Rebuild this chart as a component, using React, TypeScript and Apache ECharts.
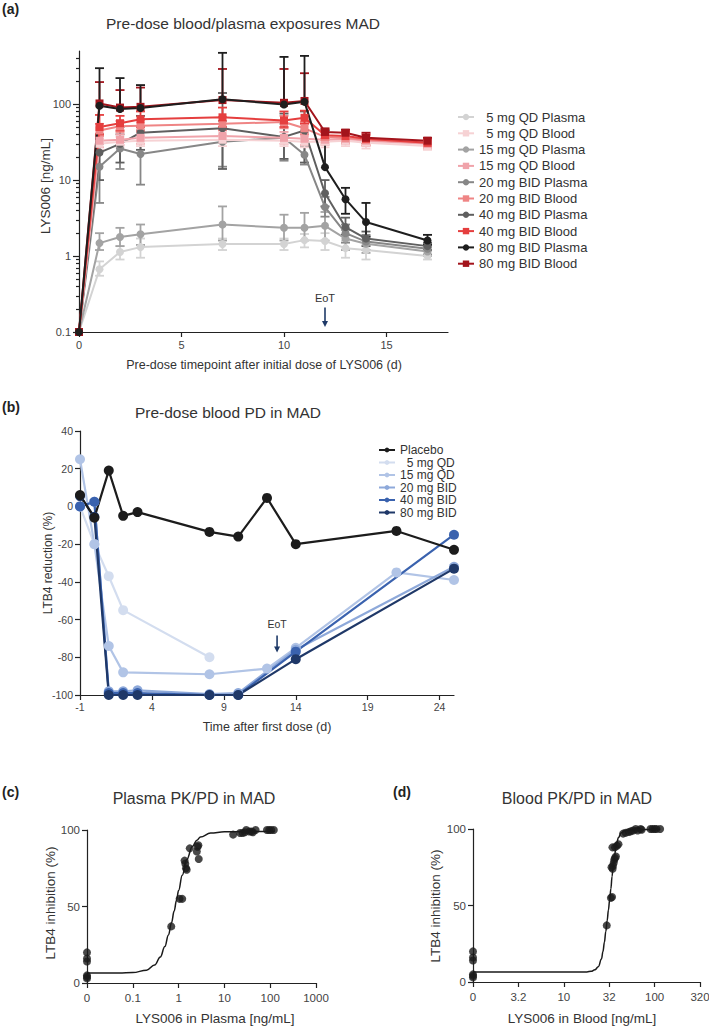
import React, { useEffect, useRef } from 'react';
import * as echarts from 'echarts';

const FONT = '"Liberation Sans", Arial, Helvetica, sans-serif';
const TXT = '#333333';
const AX = '#222222';
const N = null;

// ---------------- Panel (a): pre-dose exposures ----------------
const DAYS_A = [0, 1, 2, 3, 7, 10, 11, 12, 13, 14, 17];
const X_TICKS_A = [0, 5, 10, 15];
const Y_TICKS_A = [0.1, 1, 10, 100];
const Y_MINOR_A = [0.2, 0.3, 0.4, 0.5, 0.6, 0.7, 0.8, 0.9, 2, 3, 4, 5, 6, 7, 8, 9, 20, 30, 40, 50, 60, 70, 80, 90, 200, 300, 400];

const P5_MEAN = [0.1, 0.67, 1.13, 1.31, 1.44, 1.44, 1.62, 1.58, 1.27, 1.2, 1.0];
const P5_LO = [N, 0.55, 0.9, 0.95, 1.2, 1.2, 1.3, 1.2, 0.95, 0.9, 0.9];
const P5_HI = [N, 0.85, 1.35, 1.7, 1.7, 1.7, 1.95, 2.0, 1.6, 1.4, 1.15];

const B5_MEAN = [0.1, 30, 32, 33, 34, 33, 32, 32, 33, 31, 28];
const B5_LO = [N, 25, 27, 28, 28, 28, 27, 27, 28, 26, 25];
const B5_HI = [N, 35, 37, 38, 40, 39, 38, 37, 38, 36, 32];

const P15_MEAN = [0.1, 1.48, 1.78, 1.94, 2.6, 2.36, 2.36, 2.5, 1.7, 1.45, 1.15];
const P15_LO = [N, 1.2, 1.35, 1.4, 1.6, 1.6, 1.6, 1.6, 1.2, 1.1, 1.0];
const P15_HI = [N, 2.0, 2.35, 2.6, 4.5, 3.5, 3.7, 3.8, 2.2, 1.8, 1.3];

const B15_MEAN = [0.1, 33, 34, 36, 38, 36, 35, 34, 35, 33, 30];
const B15_LO = [N, 27, 29, 30, 31, 30, 29, 29, 30, 28, 26];
const B15_HI = [N, 39, 40, 43, 46, 43, 42, 40, 41, 38, 34];

const P20_MEAN = [0.1, 15, 26, 22, 32, 36, 21.5, 4.4, 2.0, 1.55, 1.25];
const P20_LO = [N, 5, 14, 8.7, 15, 18, 16, 3.3, 1.5, 1.2, 1.05];
const P20_HI = [N, 30, 40, 45, 60, 55, 28, 6, 2.6, 1.9, 1.45];

const B20_MEAN = [0.1, 45, 51, 52, 55, 58, 48, 37, 36, 34, 31];
const B20_LO = [N, 38, 43, 44, 45, 48, 40, 31, 31, 29, 27];
const B20_HI = [N, 55, 60, 62, 68, 70, 58, 42, 42, 39, 34];

const P40_MEAN = [0.1, 23, 30, 42, 48, 37, 45, 6.7, 2.4, 1.7, 1.35];
const P40_LO = [N, 10, 17, 25, 14, 19, 17, 4.5, 1.9, 1.35, 1.2];
const P40_HI = [N, 40, 50, 70, 140, 75, 80, 10, 3.2, 2.1, 1.5];

const B40_MEAN = [0.1, 50, 56, 63, 67, 61, 66, 39, 38, 35, 31];
const B40_LO = [N, 40, 45, 50, 50, 50, 55, 33, 33, 31, 28];
const B40_HI = [N, 72, 70, 80, 90, 80, 82, 46, 44, 40, 35];

const P80_MEAN = [0.1, 95, 86, 89, 116, 99, 107, 14.8, 5.6, 2.8, 1.6];
const P80_LO = [N, N, N, N, N, N, N, N, 3.6, 1.8, 1.4];
const P80_HI = [N, 297, 220, 178, 473, 418, 431, 45, 7.9, 5.0, 1.9];

const B80_MEAN = [0.1, 102, 90, 92, 113, 104, 110, 43, 42, 36, 33];
const B80_LO = [N, N, N, N, N, N, N, 35, 34, 31, 29];
const B80_HI = [N, 195, 153, 165, 290, 290, 255, 48, 46, 42, 36];

const EOT_A_DAY = 12;

// ---------------- Panel (b): pre-dose PD ----------------
const X_TICKS_B = [-1, 4, 9, 14, 19, 24];
const PLACEBO_DAYS = [-1, 0, 1, 2, 3, 8, 10, 12, 14, 21, 25];
const PLACEBO_VAL = [6, -6, 19, -5, -3, -13.5, -16, 4.5, -20, -13, -23];
const QD5_DAYS = [-1, 0, 1, 2, 8];
const QD5_VAL = [0, -20, -37, -55, -80];
const QD15_DAYS = [-1, 0, 1, 2, 8, 12, 14, 21, 25];
const QD15_VAL = [25, -20, -74, -88, -89, -86, -75, -35, -39];
const BID20_DAYS = [-1, 0, 1, 2, 3, 8, 10, 14, 25];
const BID20_VAL = [0, 2.5, -98, -98, -97.5, -99.5, -99, -76, -32];
const BID40_DAYS = [-1, 0, 1, 2, 3, 8, 10, 14, 25];
const BID40_VAL = [0, 2.5, -99, -99, -99, -100, -100, -77, -15];
const BID80_DAYS = [-1, 0, 1, 2, 3, 8, 10, 14, 25];
const BID80_VAL = [5.5, -5.5, -100, -100, -100, -100, -100, -81, -33];
const EOT_B_DAY = 12.7;

// ---------------- Panel (c): plasma PK/PD ----------------
const X_TICKS_C = [0.01, 0.1, 1, 10, 100, 1000];
const C_CONC = [0.01, 0.01, 0.01, 0.01, 0.01, 0.01, 0.69, 1.05, 1.2, 1.35, 1.4, 1.45, 1.5, 1.75, 2.5, 2.6, 2.7, 2.75, 15.5, 22, 25, 28, 30, 35, 39, 42, 48, 85, 95, 105, 120];
const C_INH = [20, 16, 14, 5, 3, 4, 37, 55, 55, 80, 78, 75, 74, 88, 86, 89, 90, 81, 97, 98, 98, 98.5, 100, 99, 99, 98.5, 100, 100, 100, 100, 100];
const C_FIT_X = [0.01, 0.05, 0.1, 0.2, 0.3, 0.4, 0.5, 0.6, 0.7, 0.8, 0.9, 1.0, 1.2, 1.5, 2, 2.5, 3, 5, 10, 30, 125];
const C_FIT_Y = [6.5, 6.55, 6.8, 8.4, 11.8, 17, 23.8, 31.4, 39.4, 47, 54.1, 60.4, 70.4, 80.5, 89.2, 93.3, 95.4, 98, 98.8, 99, 99];

// ---------------- Panel (d): blood PK/PD ----------------
const X_TICKS_D = [1, 3.162, 10, 31.62, 100, 316.2];
const X_LABELS_D = ['0', '3.2', '10', '32', '100', '320'];
const D_CONC = [1, 1, 1, 1, 1, 1, 29.7, 33, 34, 33.5, 34.5, 34.8, 35.5, 36, 36.6, 34.3, 36.6, 38.5, 40, 37.5, 45, 48, 52, 55, 58, 62, 65, 70, 72, 90, 95, 100, 105, 115];
const D_INH = [20, 16, 14, 5, 3, 4, 37, 55, 55.5, 75, 74, 76, 78, 80, 81, 88, 88, 89, 90, 82, 97, 97.5, 98, 98.5, 99, 100, 99, 100, 99.5, 100, 100, 100, 100, 100];
const D_FIT_X = [1, 10, 18, 20, 22, 24, 26, 27, 28, 29, 30, 31, 32, 33, 34, 35, 36, 38, 40, 43, 48, 60, 115];
const D_FIT_Y = [6.5, 6.5, 6.6, 7, 8, 10, 15, 20, 26, 33, 40, 47, 54, 61, 69, 76, 82, 90, 94.5, 97.5, 99, 99.6, 99.8];

const GROUPS_A = [
  { name: '\u20075 mg QD Plasma', color: '#d3d3d3', symbol: 'circle', mean: P5_MEAN, lo: P5_LO, hi: P5_HI },
  { name: '\u20075 mg QD Blood', color: '#f6d2d4', symbol: 'rect', mean: B5_MEAN, lo: B5_LO, hi: B5_HI },
  { name: '15 mg QD Plasma', color: '#a3a3a3', symbol: 'circle', mean: P15_MEAN, lo: P15_LO, hi: P15_HI },
  { name: '15 mg QD Blood', color: '#f0a3aa', symbol: 'rect', mean: B15_MEAN, lo: B15_LO, hi: B15_HI },
  { name: '20 mg BID Plasma', color: '#878787', symbol: 'circle', mean: P20_MEAN, lo: P20_LO, hi: P20_HI },
  { name: '20 mg BID Blood', color: '#ef8585', symbol: 'rect', mean: B20_MEAN, lo: B20_LO, hi: B20_HI },
  { name: '40 mg BID Plasma', color: '#5f5f5f', symbol: 'circle', mean: P40_MEAN, lo: P40_LO, hi: P40_HI },
  { name: '40 mg BID Blood', color: '#e53e3e', symbol: 'rect', mean: B40_MEAN, lo: B40_LO, hi: B40_HI },
  { name: '80 mg BID Plasma', color: '#1e1e1e', symbol: 'circle', mean: P80_MEAN, lo: P80_LO, hi: P80_HI },
  { name: '80 mg BID Blood', color: '#a3141c', symbol: 'rect', mean: B80_MEAN, lo: B80_LO, hi: B80_HI },
];
const DRAW_ORDER_A = [0, 2, 4, 6, 1, 3, 5, 7, 9, 8];

const GROUPS_B = [
  { name: 'Placebo', color: '#1c1c1c', days: PLACEBO_DAYS, vals: PLACEBO_VAL },
  { name: '\u20075 mg QD', color: '#d3ddef', days: QD5_DAYS, vals: QD5_VAL },
  { name: '15 mg QD', color: '#b1c4e6', days: QD15_DAYS, vals: QD15_VAL },
  { name: '20 mg BID', color: '#8ea9da', days: BID20_DAYS, vals: BID20_VAL },
  { name: '40 mg BID', color: '#3a62ae', days: BID40_DAYS, vals: BID40_VAL },
  { name: '80 mg BID', color: '#1f3868', days: BID80_DAYS, vals: BID80_VAL },
];
const DRAW_ORDER_B = [1, 2, 3, 4, 5, 0];

function errData(mean: (number | null)[], lo: (number | null)[], hi: (number | null)[]) {
  const out: any[] = [];
  DAYS_A.forEach((d, i) => {
    if (lo[i] == null && hi[i] == null) return;
    out.push([d, lo[i] ?? mean[i], hi[i] ?? mean[i], lo[i] == null ? 0 : 1, hi[i] == null ? 0 : 1]);
  });
  return out;
}

const axisLineStyle = { color: AX, width: 1.2 };

function buildOption(): any {
  const series: any[] = [];
  DRAW_ORDER_A.forEach((gi) => {
    const g = GROUPS_A[gi];
    series.push({
      type: 'custom',
      xAxisIndex: 0,
      yAxisIndex: 0,
      data: errData(g.mean, g.lo, g.hi),
      encode: { x: 0, y: [1, 2] },
      silent: true,
      renderItem: (params: any, api: any) => {
        const x = api.value(0);
        const lo = api.value(1);
        const hi = api.value(2);
        const hasLo = api.value(3);
        const hasHi = api.value(4);
        const pLo = api.coord([x, lo]);
        const pHi = api.coord([x, hi]);
        const style = { stroke: g.color, lineWidth: 1.8, fill: 'none' };
        const children: any[] = [
          { type: 'line', shape: { x1: pLo[0], y1: pLo[1], x2: pHi[0], y2: pHi[1] }, style },
        ];
        if (hasHi) children.push({ type: 'line', shape: { x1: pHi[0] - 4.5, y1: pHi[1], x2: pHi[0] + 4.5, y2: pHi[1] }, style });
        if (hasLo) children.push({ type: 'line', shape: { x1: pLo[0] - 4.5, y1: pLo[1], x2: pLo[0] + 4.5, y2: pLo[1] }, style });
        return { type: 'group', children };
      },
    });
    series.push({
      type: 'line',
      name: g.name,
      xAxisIndex: 0,
      yAxisIndex: 0,
      data: DAYS_A.map((d, i) => [d, g.mean[i]]),
      symbol: g.symbol,
      symbolSize: 8,
      showAllSymbol: true,
      lineStyle: { color: g.color, width: 2 },
      itemStyle: { color: g.color },
    });
  });

  DRAW_ORDER_B.forEach((gi) => {
    const g = GROUPS_B[gi];
    series.push({
      type: 'line',
      name: g.name,
      xAxisIndex: 1,
      yAxisIndex: 2,
      data: g.days.map((d, i) => [d, g.vals[i]]),
      symbol: 'circle',
      symbolSize: 10,
      lineStyle: { color: g.color, width: 2.2 },
      itemStyle: { color: g.color },
    });
  });

  series.push({
    type: 'line',
    xAxisIndex: 2,
    yAxisIndex: 3,
    data: C_FIT_X.map((x, i) => [x, C_FIT_Y[i]]),
    showSymbol: false,
    smooth: 0.4,
    smoothMonotone: 'x',
    lineStyle: { color: '#1a1a1a', width: 1.5 },
    silent: true,
  });
  series.push({
    type: 'scatter',
    xAxisIndex: 2,
    yAxisIndex: 3,
    data: C_CONC.map((x, i) => [x, C_INH[i]]),
    symbolSize: 8,
    itemStyle: { color: '#1a1a1a' },
  });
  series.push({
    type: 'line',
    xAxisIndex: 3,
    yAxisIndex: 4,
    data: D_FIT_X.map((x, i) => [x, D_FIT_Y[i]]),
    showSymbol: false,
    smooth: 0.4,
    smoothMonotone: 'x',
    lineStyle: { color: '#1a1a1a', width: 1.5 },
    silent: true,
  });
  series.push({
    type: 'scatter',
    xAxisIndex: 3,
    yAxisIndex: 4,
    data: D_CONC.map((x, i) => [x, D_INH[i]]),
    symbolSize: 8,
    itemStyle: { color: '#1a1a1a' },
  });

  const lbl = (size: number, extra: any = {}) => ({ fontSize: size, color: '#444', fontFamily: FONT, ...extra });

  return {
    animation: false,
    backgroundColor: '#ffffff',
    textStyle: { fontFamily: FONT },
    grid: [
      { left: 79, top: 51, width: 369, height: 281, outerBoundsMode: 'none' },
      { left: 80, top: 431, width: 374, height: 264, outerBoundsMode: 'none' },
      { left: 87, top: 830, width: 229, height: 153, outerBoundsMode: 'none' },
      { left: 473, top: 829, width: 227, height: 153, outerBoundsMode: 'none' },
    ],
    xAxis: [
      {
        type: 'value', gridIndex: 0, min: 0, max: 18,
        axisLine: { onZero: false, lineStyle: axisLineStyle },
        axisTick: { length: 5, lineStyle: axisLineStyle, customValues: X_TICKS_A },
        axisLabel: lbl(11, { customValues: X_TICKS_A, margin: 7 }),
        splitLine: { show: false },
      },
      {
        type: 'value', gridIndex: 1, min: -1, max: 25,
        axisLine: { onZero: false, lineStyle: axisLineStyle },
        axisTick: { length: 5, lineStyle: axisLineStyle, customValues: X_TICKS_B },
        axisLabel: lbl(10.5, { customValues: X_TICKS_B, margin: 6 }),
        splitLine: { show: false },
      },
      {
        type: 'log', gridIndex: 2, min: 0.01, max: 1000, logBase: 10,
        axisLine: { onZero: false, lineStyle: axisLineStyle },
        axisTick: { length: 5, lineStyle: axisLineStyle, customValues: X_TICKS_C },
        axisLabel: lbl(11.5, { customValues: X_TICKS_C, margin: 9, formatter: (v: number) => (v < 0.05 ? '0' : String(+v.toPrecision(3))) }),
        splitLine: { show: false },
        minorTick: { show: false },
      },
      {
        type: 'log', gridIndex: 3, min: 1, max: 316.2, logBase: 10,
        axisLine: { onZero: false, lineStyle: axisLineStyle },
        axisTick: { length: 5, lineStyle: axisLineStyle, customValues: X_TICKS_D },
        axisLabel: lbl(11.5, {
          customValues: X_TICKS_D, margin: 9,
          formatter: (v: number) => {
            let best = 0;
            X_TICKS_D.forEach((t, i) => { if (Math.abs(Math.log10(t) - Math.log10(v)) < Math.abs(Math.log10(X_TICKS_D[best]) - Math.log10(v))) best = i; });
            return X_LABELS_D[best];
          },
        }),
        splitLine: { show: false },
      },
    ],
    yAxis: [
      {
        type: 'log', gridIndex: 0, min: 0.1, max: 500, logBase: 10,
        axisLine: { show: true, lineStyle: axisLineStyle },
        axisTick: { show: true, length: 6, lineStyle: axisLineStyle, customValues: Y_TICKS_A },
        axisLabel: lbl(11, { customValues: Y_TICKS_A, margin: 8, formatter: (v: number) => String(+v.toPrecision(3)) }),
        splitLine: { show: false },
      },
      {
        type: 'log', gridIndex: 0, min: 0.1, max: 500, logBase: 10, position: 'left', offset: 0,
        axisLine: { show: false },
        axisTick: { show: true, length: 3, lineStyle: axisLineStyle, customValues: Y_MINOR_A },
        axisLabel: { show: false },
        splitLine: { show: false },
      },
      {
        type: 'value', gridIndex: 1, min: -100, max: 40, interval: 20,
        axisLine: { show: true, onZero: false, lineStyle: axisLineStyle },
        axisTick: { show: true, length: 5, lineStyle: axisLineStyle },
        axisLabel: lbl(10.5, { margin: 7 }),
        splitLine: { show: false },
      },
      {
        type: 'value', gridIndex: 2, min: 0, max: 100, interval: 50,
        axisLine: { show: true, onZero: false, lineStyle: axisLineStyle },
        axisTick: { show: true, length: 5, lineStyle: axisLineStyle },
        axisLabel: lbl(11.5, { margin: 7 }),
        splitLine: { show: false },
      },
      {
        type: 'value', gridIndex: 3, min: 0, max: 100, interval: 50,
        axisLine: { show: true, onZero: false, lineStyle: axisLineStyle },
        axisTick: { show: true, length: 5, lineStyle: axisLineStyle },
        axisLabel: lbl(11.5, { margin: 7 }),
        splitLine: { show: false },
      },
    ],
    legend: [
      {
        orient: 'vertical', left: 452, top: 105,
        itemWidth: 16, itemHeight: 8, itemGap: 2.3,
        data: GROUPS_A.map((g) => g.name),
        textStyle: { fontSize: 13, color: TXT, fontFamily: FONT, lineHeight: 14 },
        selectedMode: false,
      },
      {
        orient: 'vertical', left: 373, top: 439,
        itemWidth: 16, itemHeight: 6, itemGap: 0.5,
        data: GROUPS_B.map((g) => g.name),
        textStyle: { fontSize: 12, color: TXT, fontFamily: FONT, lineHeight: 11.5 },
        selectedMode: false,
      },
    ],
    series,
  };
}

function txt(x: number, y: number, text: string, size: number, opts: any = {}) {
  return {
    type: 'text',
    x, y,
    rotation: opts.rotation || 0,
    silent: true,
    style: {
      text,
      fontSize: size,
      fontFamily: FONT,
      fontWeight: opts.bold ? 'bold' : 'normal',
      fill: opts.color || TXT,
      align: opts.align || 'center',
      verticalAlign: 'middle',
    },
  };
}

function arrow(x: number, yText: number, y1: number, y2: number, size: number) {
  const c = '#1f3a68';
  return [
    txt(x, yText, 'EoT', size, { color: '#333' }),
    { type: 'line', silent: true, shape: { x1: x, y1, x2: x, y2: y2 - 5 }, style: { stroke: c, lineWidth: 1.6 } },
    { type: 'polygon', silent: true, shape: { points: [[x - 3, y2 - 6], [x + 3, y2 - 6], [x, y2]] }, style: { fill: c } },
  ];
}

export default function App() {
  const ref = useRef<HTMLDivElement>(null);
  useEffect(() => {
    const chart = echarts.init(ref.current!, null, { renderer: 'svg' });
    chart.setOption(buildOption());

    const a1 = chart.convertToPixel({ xAxisIndex: 0, yAxisIndex: 0 } as any, [EOT_A_DAY, 0.28]) as number[];
    const a2 = chart.convertToPixel({ xAxisIndex: 0, yAxisIndex: 0 } as any, [EOT_A_DAY, 0.21]) as number[];
    const a3 = chart.convertToPixel({ xAxisIndex: 0, yAxisIndex: 0 } as any, [EOT_A_DAY, 0.116]) as number[];
    const b1 = chart.convertToPixel({ xAxisIndex: 1, yAxisIndex: 2 } as any, [EOT_B_DAY, -62.6]) as number[];
    const b2 = chart.convertToPixel({ xAxisIndex: 1, yAxisIndex: 2 } as any, [EOT_B_DAY, -68.4]) as number[];
    const b3 = chart.convertToPixel({ xAxisIndex: 1, yAxisIndex: 2 } as any, [EOT_B_DAY, -77.5]) as number[];

    const graphics: any[] = [
      txt(2, 9, '(a)', 14, { bold: true, align: 'left', color: '#222' }),
      txt(243, 23, 'Pre-dose blood/plasma exposures MAD', 15.5),
      txt(264, 365, 'Pre-dose timepoint after initial dose of LYS006 (d)', 12.5),
      txt(45, 186, 'LYS006 [ng/mL]', 13.5, { rotation: Math.PI / 2 }),
      ...arrow(a1[0], a1[1], a2[1], a3[1], 11),

      txt(2, 407, '(b)', 14, { bold: true, align: 'left', color: '#222' }),
      txt(228, 412, 'Pre-dose blood PD in MAD', 15.5),
      txt(267, 727, 'Time after first dose (d)', 12.5),
      txt(48, 563, 'LTB4 reduction (%)', 12, { rotation: Math.PI / 2 }),
      ...arrow(b1[0], b1[1], b2[1], b3[1], 10.5),

      txt(2, 792, '(c)', 14, { bold: true, align: 'left', color: '#222' }),
      txt(194, 798, 'Plasma PK/PD in MAD', 16),
      txt(215, 1018, 'LYS006 in Plasma [ng/mL]', 13.5),
      txt(50, 903, 'LTB4 inhibition (%)', 13.5, { rotation: Math.PI / 2 }),

      txt(393, 792, '(d)', 14, { bold: true, align: 'left', color: '#222' }),
      txt(577, 798, 'Blood PK/PD in MAD', 16),
      txt(582, 1018, 'LYS006 in Blood [ng/mL]', 13.5),
      txt(435, 906, 'LTB4 inhibition (%)', 13.5, { rotation: Math.PI / 2 }),
    ];
    chart.setOption({ graphic: graphics });
    return () => chart.dispose();
  }, []);
  return (
    <div
      ref={ref}
      style={{ position: 'absolute', left: 0, top: 0, width: 709, height: 1028, background: '#fff' }}
    />
  );
}
